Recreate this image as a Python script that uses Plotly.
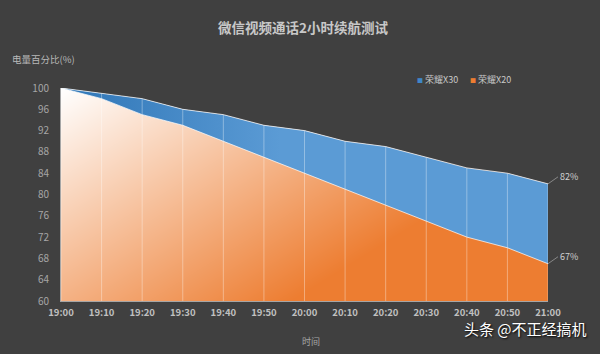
import plotly.graph_objects as go

times = ["19:00","19:10","19:20","19:30","19:40","19:50","20:00","20:10","20:20","20:30","20:40","20:50","21:00"]
x30 = [100,99,98,96,95,93,92,90,89,87,85,84,82]
x20 = [100,98,95,93,90,87,84,81,78,75,72,70,67]
yticks = [60,64,68,72,76,80,84,88,92,96,100]
idx = list(range(len(times)))
BG = "#404040"
FONT = "Noto Sans CJK SC, Liberation Sans, sans-serif"
ORANGE = "#ED7D31"
BLUE = "#3F86C8"
ymin, ymax = yticks[0], yticks[-1]

fig = go.Figure()
# diagonal orange gradient behind everything
fig.add_trace(go.Heatmap(x=[idx[0], idx[-1]], y=[ymin, ymax], z=[[0.6, 1.45], [0, 0.85]], zmin=0, zmax=1,
                         zsmooth="best", showscale=False, hoverinfo="skip",
                         colorscale=[[0, "#FFFFFF"], [1, ORANGE]]))
hidden = dict(mode="lines", line=dict(width=0), showlegend=False, hoverinfo="skip")
# dark mask above the X30 curve
fig.add_trace(go.Scatter(x=idx, y=[ymax]*len(idx), **hidden))
fig.add_trace(go.Scatter(x=idx, y=x30, fill="tonexty", fillcolor=BG, **hidden))
# blue band between the curves
fig.add_trace(go.Scatter(x=idx, y=x20, **hidden))
fig.add_trace(go.Scatter(x=idx, y=x30, fill="tonexty",
                         fillgradient=dict(type="horizontal",
                                           colorscale=[[0, "#2E75B6"], [0.45, "#5B9BD5"], [1, "#5B9BD5"]]),
                         **hidden))
# drop lines
dx, dy = [], []
for i, v in zip(idx, x30):
    dx += [i, i, None]
    dy += [ymin, v, None]
fig.add_trace(go.Scatter(x=dx, y=dy, mode="lines", line=dict(color="rgba(255,255,255,0.35)", width=1),
                         showlegend=False, hoverinfo="skip", cliponaxis=False))
# curve edges
for s in (x30, x20):
    fig.add_trace(go.Scatter(x=idx, y=s, mode="lines", line=dict(color="rgba(255,255,255,0.7)", width=1),
                             showlegend=False, hoverinfo="skip", cliponaxis=False))

for s in (x30, x20):
    fig.add_annotation(x=idx[-1], y=s[-1], text=f"{s[-1]}%", showarrow=True, arrowhead=0, arrowwidth=0.7,
                       arrowcolor="#A6A6A6", ax=10, ay=-7, xanchor="left",
                       font=dict(size=9, color="#D0D0D0"), standoff=0)

fig.add_annotation(xref="paper", yref="paper", x=0.5, y=1, yshift=73.5, xshift=-1.5,
                   text="<b>微信视频通话2小时续航测试</b>",
                   showarrow=False, font=dict(size=13.5, color="#C8C8C8"))
fig.add_annotation(xref="paper", yref="paper", x=-0.105, y=1, yshift=38.5, xanchor="left",
                   text="电量百分比(%)", showarrow=False, font=dict(size=9.5, color="#B8B8B8"))
fig.add_annotation(xref="paper", yref="paper", x=0.5, y=0, yshift=-49, xshift=6, text="时间",
                   showarrow=False, font=dict(size=9, color="#A6A6A6"))
fig.add_annotation(xref="paper", yref="paper", x=1.085, y=-0.13, xanchor="right", yanchor="middle",
                   text="头条 @不正经搞机", showarrow=False,
                   font=dict(size=15, color="#FFFFFF", shadow="1px 1px 2px #000000"))
# legend keys and labels
for px, name, col in ((415, "荣耀X30", BLUE), (467.5, "荣耀X20", ORANGE)):
    fig.add_annotation(xref="paper", yref="paper", x=(px-60.5)/487.5, y=(301-78.5)/213.5, xanchor="left",
                       yanchor="middle", showarrow=False, align="left",
                       text=f"<span style='color:{col};font-size:6px'>■</span> {name}",
                       font=dict(size=9, color="#C8C8C8"))

fig.update_layout(
    width=600, height=354, paper_bgcolor=BG, plot_bgcolor=BG,
    margin=dict(l=60.5, r=52, t=87.5, b=53, autoexpand=False),
    font=dict(family=FONT), showlegend=False,
    xaxis=dict(range=[idx[0], idx[-1]], tickmode="array", tickvals=idx, ticktext=[f"<b>{t}</b>" for t in times],
               showgrid=False, zeroline=False, showline=True, linecolor="#A6A6A6", linewidth=1,
               ticks="", ticklabelstandoff=3, tickfont=dict(size=9.5, color="#C0C0C0")),
    yaxis=dict(range=[ymin, ymax], tickmode="array", tickvals=yticks, showgrid=False, zeroline=False,
               showline=True, linecolor="#A6A6A6", linewidth=1, ticks="", ticklabelstandoff=9,
               tickfont=dict(size=10, color="#A6A6A6")),
)
fig.write_html("out.html", config={"displayModeBar": False},
               post_script="document.body.style.margin='0';document.body.style.background='#404040';document.documentElement.style.overflow='hidden';")
